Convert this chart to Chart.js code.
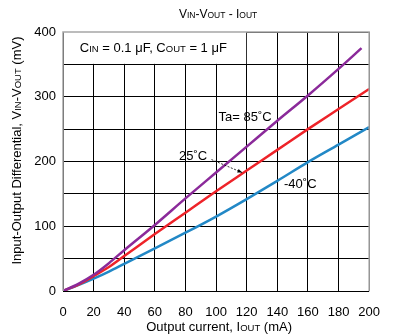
<!DOCTYPE html>
<html>
<head>
<meta charset="utf-8">
<script src="https://cdn.jsdelivr.net/npm/chart.js@4/dist/chart.umd.min.js"></script>
<style>
  html, body { margin: 0; padding: 0; background: #fff; }
  canvas { display: block; }
</style>
</head>
<body>
<canvas id="ChartCanvas1" width="394" height="334"></canvas>
<script>
// Output current (mA) and input-output differential (mV)
const current85 = [0, 10, 20, 30, 40, 60, 80, 100, 120, 140, 160, 180, 195];
const drop85    = [0, 11, 25, 43, 63, 102, 143, 183, 223, 263, 302, 343, 375];
const current   = [0, 10, 20, 30, 40, 60, 80, 100, 120, 140, 160, 180, 200];
const drop25    = [0, 10, 23, 37, 54, 88, 121, 154, 186, 218, 250, 281, 312];
const dropM40   = [0, 9, 19, 30, 42, 66, 90, 115, 142, 170, 199, 226, 253];

const xMin = 0, xMax = 200, xStep = 20;
const yMin = 0, yMax = 400, yStep = 50, yLabelStep = 100;

const FONT = '"Liberation Sans", Arial, Helvetica, sans-serif';

Initialize();

function Initialize()
{
    const ctx = document.getElementById('ChartCanvas1').getContext('2d');

    function pts(xs, ys) { return xs.map((x, i) => ({x: x, y: ys[i]})); }

    // text with smaller capital "subscripts", e.g. [['V',13],['IN',9.5]]
    function rich(c, parts, x, y, align)
    {
        let w = 0;
        parts.forEach(p => { c.font = p[1] + 'px ' + FONT; w += c.measureText(p[0]).width; });
        let cx = align === 'center' ? x - w / 2 : x;
        c.textAlign = 'left';
        c.textBaseline = 'alphabetic';
        parts.forEach(p => {
            c.font = p[1] + 'px ' + FONT;
            c.fillText(p[0], cx, y);
            cx += c.measureText(p[0]).width;
        });
    }

    const decor = {
        id: 'decor',
        beforeDatasetsDraw(chart)
        {
            const c = chart.ctx, xs = chart.scales.x, ys = chart.scales.y;
            const l = xs.getPixelForValue(0), r = xs.getPixelForValue(120);
            const t = ys.getPixelForValue(400), b = ys.getPixelForValue(350);
            c.save();
            c.fillStyle = '#fff';
            c.fillRect(l + 1, t, r - l - 1.5, b - t - 0.5);
            c.fillStyle = '#000';
            rich(c, [['C', 13], ['IN', 9.5], [' = 0.1 \u03bcF, C', 13], ['OUT', 9.5], [' = 1 \u03bcF', 13]],
                 xs.getPixelForValue(59), ys.getPixelForValue(369), 'center');
            c.restore();
        },
        afterDraw(chart)
        {
            const c = chart.ctx, a = chart.chartArea, xs = chart.scales.x, ys = chart.scales.y;
            c.save();
            // grey frame on left, top, right
            c.strokeStyle = '#a6a6a6';
            c.lineWidth = 1.5;
            c.beginPath();
            c.moveTo(a.left, a.bottom);
            c.lineTo(a.left, a.top);
            c.lineTo(a.right, a.top);
            c.lineTo(a.right, a.bottom);
            c.stroke();

            c.fillStyle = '#000';
            // curve labels
            c.font = '13px ' + FONT;
            c.textAlign = 'center';
            c.textBaseline = 'middle';
            c.fillText('Ta= 85\u02daC', xs.getPixelForValue(119), ys.getPixelForValue(268));
            c.fillText('25\u02daC', xs.getPixelForValue(85), ys.getPixelForValue(208));
            c.fillText('-40\u02daC', xs.getPixelForValue(155), ys.getPixelForValue(165));

            // dashed arrow pointing at the 25 C line
            const x1 = xs.getPixelForValue(97), y1 = ys.getPixelForValue(203);
            const x2 = xs.getPixelForValue(117), y2 = ys.getPixelForValue(183);
            c.strokeStyle = '#000';
            c.lineWidth = 0.8;
            c.setLineDash([2, 1.5]);
            c.beginPath();
            c.moveTo(x1, y1);
            c.lineTo(x2, y2);
            c.stroke();
            c.setLineDash([]);
            const ang = Math.atan2(y2 - y1, x2 - x1);
            c.beginPath();
            c.moveTo(x2, y2);
            c.lineTo(x2 - 5 * Math.cos(ang - 0.4), y2 - 5 * Math.sin(ang - 0.4));
            c.lineTo(x2 - 5 * Math.cos(ang + 0.4), y2 - 5 * Math.sin(ang + 0.4));
            c.closePath();
            c.fill();

            // title
            const mid = (a.left + a.right) / 2;
            rich(c, [['V', 12], ['IN', 8.5], ['-V', 12], ['OUT', 8.5], [' - I', 12], ['OUT', 8.5]], mid + 2, 18, 'center');

            // x axis title
            rich(c, [['Output current, I', 13], ['OUT', 9.5], [' (mA)', 13]], mid + 3, 331, 'center');

            // y axis title
            c.translate(21, (a.top + a.bottom) / 2 - 11);
            c.rotate(-Math.PI / 2);
            rich(c, [['Input-Output Differential, V', 13], ['IN', 9.5], ['-V', 13], ['OUT', 9.5], [' (mV)', 13]], 0, 0, 'center');
            c.restore();
        }
    };

    const lineStyle = { borderWidth: 2.5, pointRadius: 0, cubicInterpolationMode: 'monotone', fill: false };

    new Chart(ctx,
    {
        type: 'line',
        data: {
            datasets: [
                Object.assign({ label: 'Ta=85C', data: pts(current85, drop85), borderColor: '#8b2a9a' }, lineStyle),
                Object.assign({ label: '25C', data: pts(current, drop25), borderColor: '#ee2329' }, lineStyle),
                Object.assign({ label: '-40C', data: pts(current, dropM40), borderColor: '#2288c6' }, lineStyle)
            ]
        },
        options: {
            responsive: false,
            animation: false,
            devicePixelRatio: 1,
            layout: { padding: { top: 32, right: 14, left: 0, bottom: 0 } },
            plugins: { legend: { display: false }, tooltip: { enabled: false } },
            scales: {
                x: {
                    type: 'linear',
                    min: xMin, max: xMax,
                    ticks: { stepSize: xStep, color: '#000', font: { family: FONT, size: 13 }, padding: 14, maxRotation: 0 },
                    grid: { color: '#000', lineWidth: 1, drawTicks: false },
                    border: { display: false },
                    afterFit(s) { s.height = 43; }
                },
                y: {
                    min: yMin, max: yMax,
                    ticks: {
                        stepSize: yStep, autoSkip: false, color: '#000',
                        font: { family: FONT, size: 13 }, padding: 7,
                        callback: v => (v % yLabelStep === 0 ? v : '')
                    },
                    grid: { color: '#000', lineWidth: 1, drawTicks: false },
                    border: { display: false },
                    afterFit(s) { s.height; s.width = 63; }
                }
            }
        },
        plugins: [decor]
    });
}
</script>
</body>
</html>
